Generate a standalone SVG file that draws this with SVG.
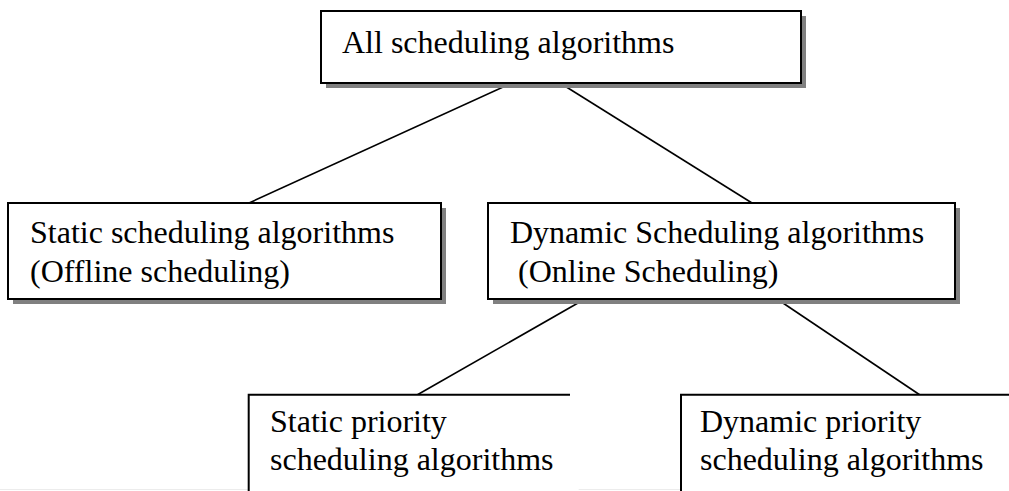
<svg xmlns="http://www.w3.org/2000/svg" width="1009" height="491" viewBox="0 0 1009 491">
<style>
.box{fill:#fff;stroke:#000;stroke-width:2}
.shadow{fill:#808080}
.edge{stroke:#000;stroke-width:1.6;fill:none}
text{font-family:"Liberation Serif","Times New Roman",serif;font-size:32px;fill:#000}
</style>
<rect width="1009" height="491" fill="#fff"/>
<line x1="0" y1="489.5" x2="1009" y2="489.5" stroke="#ececec" stroke-width="1"/>
<g id="connectors">
<line class="edge" x1="512" y1="83" x2="249" y2="203"/>
<line class="edge" x1="560" y1="83" x2="752" y2="203"/>
<line class="edge" x1="585" y1="299" x2="417" y2="395"/>
<line class="edge" x1="777" y1="299" x2="920" y2="395"/>
</g>
<g id="root">
<rect class="shadow" x="326" y="16" width="480" height="72"/>
<rect class="box" x="321" y="11" width="480" height="72"/>
<text x="342" y="53">All scheduling algorithms</text>
</g>
<g id="static">
<rect class="shadow" x="13" y="208" width="433" height="96"/>
<rect class="box" x="8" y="203" width="433" height="96"/>
<text x="30" y="243">Static scheduling algorithms</text>
<text x="30" y="282">(Offline scheduling)</text>
</g>
<g id="dynamic">
<rect class="shadow" x="493" y="208" width="467" height="96"/>
<rect class="box" x="488" y="203" width="467" height="96"/>
<text x="510" y="243">Dynamic Scheduling algorithms</text>
<text x="510" y="282" xml:space="preserve"> (Online Scheduling)</text>
</g>
<g id="static-priority">
<rect x="248.7" y="394.7" width="330" height="120" fill="#fff"/>
<path d="M248.7 491 V394.7 H570" fill="none" stroke="#000" stroke-width="2"/>
<text x="270" y="432">Static priority</text>
<text x="270" y="470">scheduling algorithms</text>
</g>
<g id="dynamic-priority">
<rect x="681" y="394.7" width="340" height="120" fill="#fff"/>
<path d="M681 491 V394.7 H1009" fill="none" stroke="#000" stroke-width="2"/>
<text x="700" y="432">Dynamic priority</text>
<text x="700" y="470">scheduling algorithms</text>
</g>
</svg>
